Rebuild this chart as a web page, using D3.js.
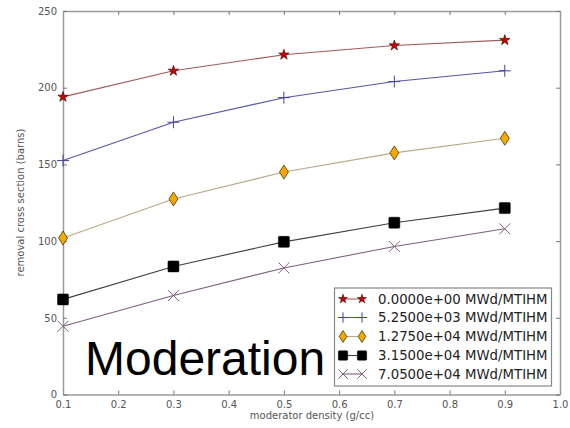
<!DOCTYPE html>
<html><head><meta charset="utf-8">
<script src="https://cdn.jsdelivr.net/npm/d3@7"></script>
<style>body{margin:0;background:#fff}svg{display:block}</style>
</head><body>
<script>
const densities = [0.1, 0.3, 0.5, 0.7, 0.9];
const seriesNames = ["0.0000e+00 MWd/MTIHM","5.2500e+03 MWd/MTIHM","1.2750e+04 MWd/MTIHM","3.1500e+04 MWd/MTIHM","7.0500e+04 MWd/MTIHM"];
const burn0 = [194, 211, 221.5, 227.5, 231];
const burn1 = [152.5, 177.5, 193.5, 204, 211];
const burn2 = [102, 127.5, 145, 157.5, 167];
const burn3 = [62, 83.5, 99.5, 112, 121.5];
const burn4 = [44.5, 64.5, 82.5, 96.5, 108];
const xTicks = [0.1,0.2,0.3,0.4,0.5,0.6,0.7,0.8,0.9,1.0];
const yTicks = [0,50,100,150,200,250];

const series = [
  {name: seriesNames[0], values: burn0, line:"#a05a5a", fill:"#cc0000", marker:"star"},
  {name: seriesNames[1], values: burn1, line:"#5555aa", fill:"#4040a0", marker:"plus"},
  {name: seriesNames[2], values: burn2, line:"#b8a888", fill:"#f5a800", marker:"diamond"},
  {name: seriesNames[3], values: burn3, line:"#404040", fill:"#000000", marker:"square"},
  {name: seriesNames[4], values: burn4, line:"#806080", fill:"#806080", marker:"x"}
];

const W=570,H=428;
const svg=d3.select("body").append("svg").attr("width",W).attr("height",H);
const x=d3.scaleLinear().domain([0.1,1.0]).range([63,560]);
const y=d3.scaleLinear().domain([0,250]).range([394.5,11]);

function drawMarker(g, type, cx, cy, s, fill){
  const k=s;
  if(type==="star"){
    g.append("path").attr("d",d3.symbol().type(d3.symbolStar).size(34*k*k)())
     .attr("transform",`translate(${cx},${cy})`).attr("fill",fill).attr("stroke","#300").attr("stroke-width",0.6);
  } else if(type==="plus"){
    g.append("path").attr("d",`M${cx-6*k},${cy}H${cx+6*k}M${cx},${cy-6*k}V${cy+6*k}`)
     .attr("stroke",fill).attr("stroke-width",1).attr("fill","none");
  } else if(type==="diamond"){
    const w=4.5*k,h=7*k;
    g.append("path").attr("d",`M${cx},${cy-h}L${cx+w},${cy}L${cx},${cy+h}L${cx-w},${cy}Z`)
     .attr("fill",fill).attr("stroke","#332200").attr("stroke-width",0.7);
  } else if(type==="square"){
    const a=5.5*k;
    g.append("rect").attr("x",cx-a).attr("y",cy-a).attr("width",2*a).attr("height",2*a).attr("rx",1)
     .attr("fill",fill).attr("stroke","#000").attr("stroke-width",0.5);
  } else if(type==="x"){
    const a=5.5*k;
    g.append("path").attr("d",`M${cx-a},${cy-a}L${cx+a},${cy+a}M${cx-a},${cy+a}L${cx+a},${cy-a}`)
     .attr("stroke",fill).attr("stroke-width",1).attr("fill","none");
  }
}

const axisColor="#9a9a9a";
const tickFont="DejaVu Sans";
const axB=svg.append("g").attr("transform",`translate(0,${y(0)})`)
  .call(d3.axisBottom(x).tickValues(xTicks).tickSizeInner(-4).tickSizeOuter(0).tickPadding(6).tickFormat(d3.format(".1f")));
const axT=svg.append("g").attr("transform",`translate(0,${y(250)})`)
  .call(d3.axisTop(x).tickValues(xTicks).tickSizeInner(-4).tickSizeOuter(0).tickFormat(""));
const axL=svg.append("g").attr("transform",`translate(${x(0.1)},0)`)
  .call(d3.axisLeft(y).tickValues(yTicks).tickSizeInner(-4).tickSizeOuter(0).tickPadding(6).tickFormat(d3.format("d")));
const axR=svg.append("g").attr("transform",`translate(${x(1.0)},0)`)
  .call(d3.axisRight(y).tickValues(yTicks).tickSizeInner(-4).tickSizeOuter(0).tickFormat(""));
[axB,axT,axL,axR].forEach(a=>{
  a.selectAll("path.domain").attr("stroke",axisColor).attr("stroke-width",1.5);
  a.selectAll(".tick line").attr("stroke","#777").attr("stroke-width",1);
  a.selectAll("text").attr("font-family",tickFont).attr("font-size",10).attr("fill","#555");
});

const plot=svg.append("g");
const line=d3.line().x((d,i)=>x(densities[i])).y(d=>y(d));
series.forEach(s=>{
  plot.append("path").datum(s.values).attr("d",line).attr("fill","none").attr("stroke",s.line).attr("stroke-width",1.1);
  s.values.forEach((v,i)=>drawMarker(plot,s.marker,x(densities[i]),y(v),1,s.fill));
});

svg.append("text").attr("x",312).attr("y",419).attr("text-anchor","middle")
  .attr("font-family",tickFont).attr("font-size",10).attr("fill","#555").text("moderator density (g/cc)");
svg.append("text").attr("transform",`translate(24,${(11+394)/2}) rotate(-90)`).attr("text-anchor","middle")
  .attr("font-family",tickFont).attr("font-size",10).attr("fill","#555").text("removal cross section (barns)");

const lg=svg.append("g");
lg.append("rect").attr("x",334.5).attr("y",288).attr("width",217).attr("height",98)
  .attr("fill","#fff").attr("stroke","#888").attr("stroke-width",1.2);
const rowY=[299,317.5,336.5,355.5,374];
series.forEach((s,i)=>{
  const ry=rowY[i];
  lg.append("line").attr("x1",343).attr("x2",362).attr("y1",ry).attr("y2",ry).attr("stroke",s.line).attr("stroke-width",1.1);
  drawMarker(lg,s.marker,343,ry,0.85,s.fill);
  drawMarker(lg,s.marker,362,ry,0.85,s.fill);
  lg.append("text").attr("x",378).attr("y",ry).attr("dy","0.36em")
    .attr("font-family",tickFont).attr("font-size",13.3).attr("fill","#222").text(s.name);
});

svg.append("text").attr("x",85).attr("y",375).attr("font-family","Liberation Sans, Arial, sans-serif")
  .attr("font-size",48).attr("fill","#000").text("Moderation");
</script>
</body></html>
